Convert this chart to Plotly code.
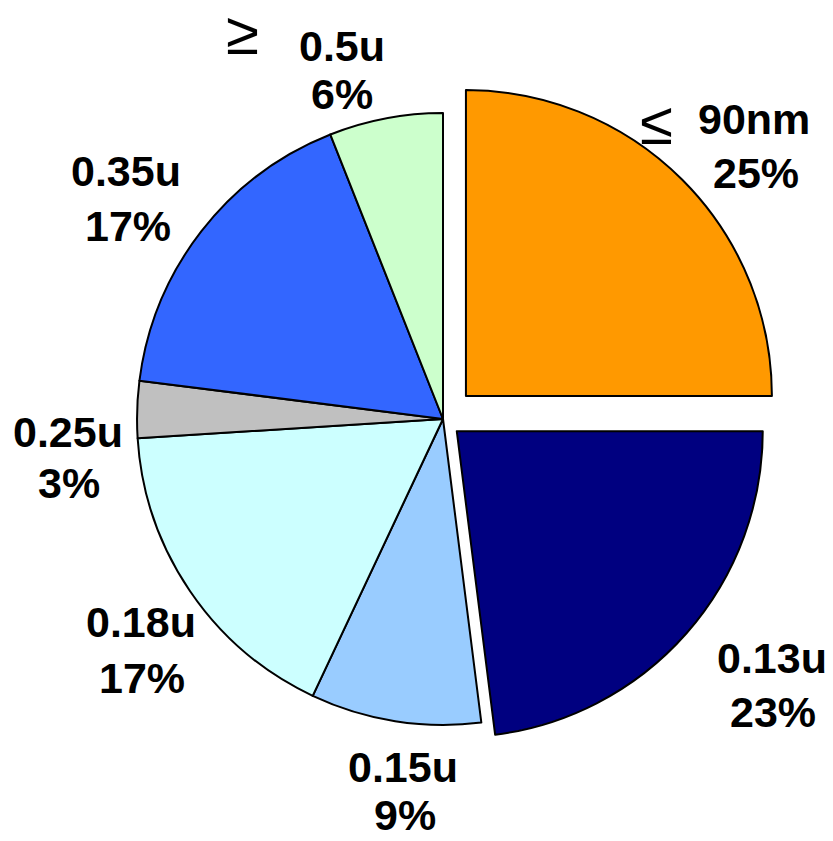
import plotly.graph_objects as go

# ---- data ----
categories = ["90nm", "0.13u", "0.15u", "0.18u", "0.25u", "0.35u", "0.5u"]
prefixes = ["\u2264", "", "", "", "", "", "\u2265"]
shares = [25, 23, 9, 17, 3, 17, 6]
colors = ["#FF9900", "#000080", "#99CCFF", "#CCFFFF", "#C0C0C0", "#3366FF", "#CCFFCC"]
pulls = [0.106, 0.06, 0, 0, 0, 0, 0]

# ---- layout helpers (pixel positions of label lines) ----
W, H = 833, 841
name_pos = [(754, 119), (772, 658), (403, 767), (141, 622), (68, 432), (126, 171), (342, 46)]
pct_pos = [(756, 173), (773, 712), (405, 815), (142, 678), (69, 483), (128, 226), (342, 94)]
sym_pos = {0: (656, 124), 6: (242, 33)}

cx, cy, half = 443, 419, 338.4

fig = go.Figure(go.Pie(
    labels=categories,
    values=shares,
    sort=False,
    direction="clockwise",
    rotation=0,
    pull=pulls,
    marker=dict(colors=colors, line=dict(color="black", width=2)),
    textinfo="none",
    hoverinfo="label+percent",
    showlegend=False,
    domain=dict(x=[(cx - half) / W, (cx + half) / W],
                y=[1 - (cy + half) / H, 1 - (cy - half) / H]),
))

font_main = dict(family="Liberation Sans, Arial, sans-serif", size=43, color="black")
ann = []
for i, (name, val) in enumerate(zip(categories, shares)):
    nx, ny = name_pos[i]
    px_, py_ = pct_pos[i]
    ann.append(dict(x=nx / W, y=1 - ny / H, xref="paper", yref="paper",
                    text=f"<b>{name}</b>", showarrow=False, font=font_main,
                    xanchor="center", yanchor="middle"))
    ann.append(dict(x=px_ / W, y=1 - py_ / H, xref="paper", yref="paper",
                    text=f"<b>{val}%</b>", showarrow=False, font=font_main,
                    xanchor="center", yanchor="middle"))
    if prefixes[i]:
        sx, sy = sym_pos[i]
        ann.append(dict(x=sx / W, y=1 - sy / H, xref="paper", yref="paper",
                        text=prefixes[i], showarrow=False,
                        font=dict(family="Liberation Sans, Arial, sans-serif", size=60, color="black"),
                        xanchor="center", yanchor="middle"))

fig.update_layout(
    width=W, height=H,
    margin=dict(l=0, r=0, t=0, b=0),
    paper_bgcolor="white",
    plot_bgcolor="white",
    annotations=ann,
)

fig.write_html("out.html")
